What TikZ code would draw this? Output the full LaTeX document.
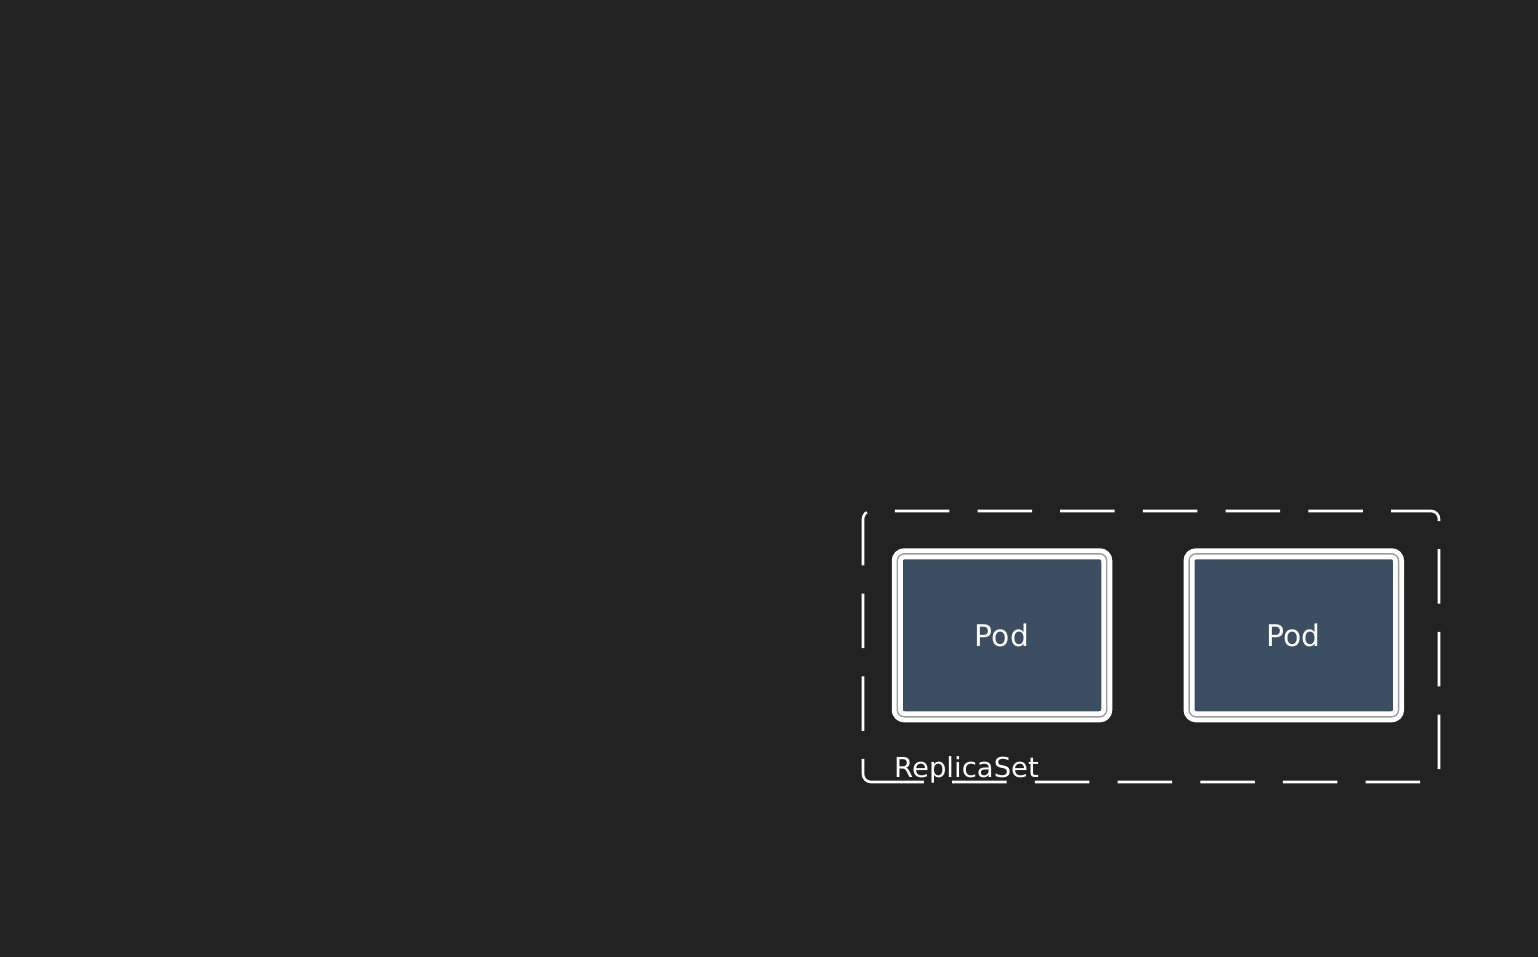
\documentclass[tikz,border=0pt]{standalone}
\usepackage{fontspec}
\setmainfont{DejaVu Sans}

\begin{document}
\begin{tikzpicture}[x=1pt,y=-1pt,
  podbox/.style={rectangle,rounded corners=7pt,draw=white,line width=4.8pt,double=podline,double distance=1.4pt,fill=podblue,minimum width=209.5pt,minimum height=163pt,inner sep=0pt,text=white,font=\fontsize{29.8}{36}\selectfont},
  rsbox/.style={rectangle,minimum width=576pt,minimum height=271pt,inner sep=0pt,outer sep=0pt},
  rsline/.style={draw=white,line width=2.6pt,rounded corners=8pt,dash pattern=on 54.5pt off 28.2pt}]
\definecolor{bgdark}{HTML}{222222}
\definecolor{podblue}{HTML}{3B4E62}
\definecolor{podline}{HTML}{9A9EA3}
\fill[bgdark] (0,0) rectangle (1538,957);
\node [rsbox] (rs) at (1151,646.5) {};
\draw [rsline] ([xshift=43pt]rs.south west) -- (rs.south west) -- (rs.north west) -- (rs.north east) -- (rs.south east) -- cycle;
  \foreach \nm/\pos in {poda/1002,podb/1293.8}
  {  \node [podbox] (\nm) at (\pos,635.3) {Pod};}
\node [anchor=base west,text=white,inner sep=0pt,font=\fontsize{27.5}{33}\selectfont] (rslabel) at (894,777) {ReplicaSet};
\end{tikzpicture}
\end{document}
